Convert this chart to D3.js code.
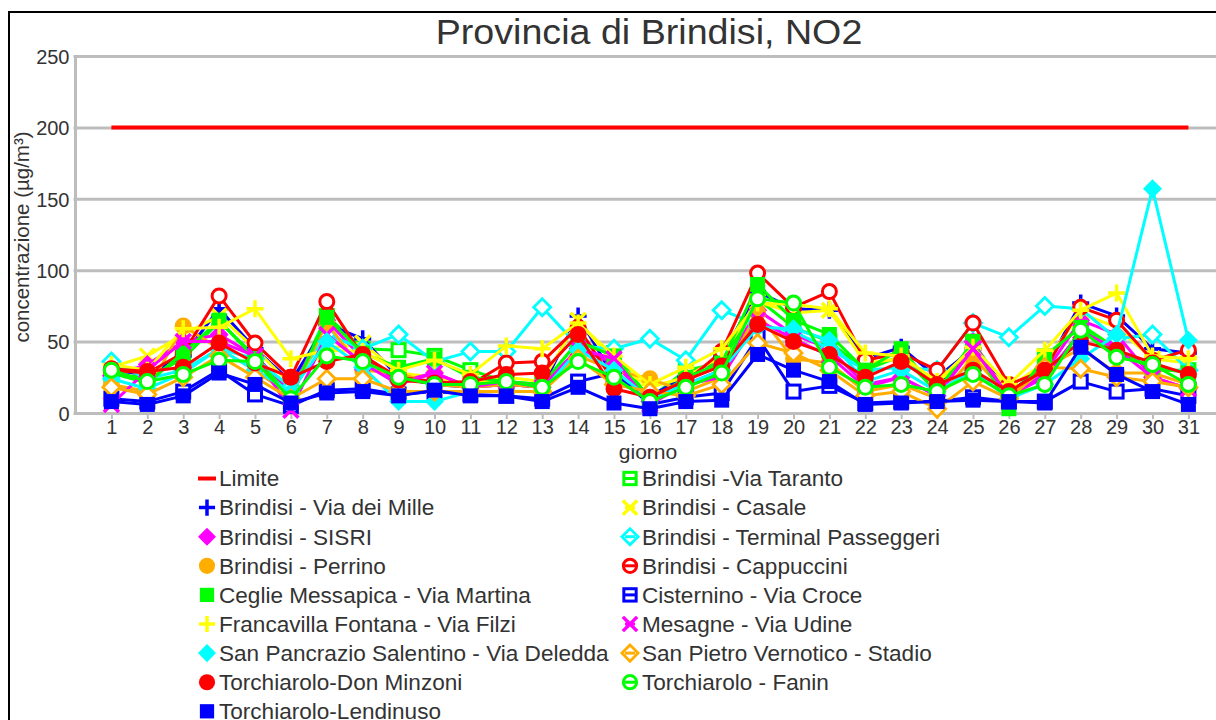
<!DOCTYPE html>
<html><head><meta charset="utf-8">
<script src="https://cdn.jsdelivr.net/npm/d3@7"></script>
<style>
html,body{margin:0;padding:0;background:#fff;}
svg{display:block;font-family:"Liberation Sans",Arial,sans-serif;}
</style></head>
<body>
<svg id="chart" width="1216" height="720"></svg>
<script>
// ---- data ----
const days = [1,2,3,4,5,6,7,8,9,10,11,12,13,14,15,16,17,18,19,20,21,22,23,24,25,26,27,28,29,30,31];
const yTicks = [0,50,100,150,200,250];
const limite = 200;
const chartTitle = "Provincia di Brindisi, NO2";
const xTitle = "giorno";
const yTitle = "concentrazione (µg/m³)";

const viaTaranto   = [27,25,38,64,40,15,68,45,44,40,30,22,20,50,42,10,30,35,80,60,50,30,40,15,50,12,37,62,45,30,30];
const viaDeiMille  = [30,27,40,73,45,22,62,52,25,20,18,20,18,68,25,12,25,40,85,73,72,38,46,25,45,15,30,77,68,45,42];
const casale       = [32,40,55,68,45,20,45,49,28,25,20,25,22,65,35,18,25,40,78,70,72,35,38,22,40,18,35,70,60,38,35];
const sisri        = [26,34,50,55,40,15,65,38,22,28,18,20,18,45,35,8,20,30,72,55,45,20,25,12,50,10,28,65,55,25,17];
const terminal     = [36,24,30,45,38,18,55,45,55,36,43,43,74,47,45,52,37,72,62,57,45,30,32,30,63,53,75,73,52,55,30];
const perrino      = [20,15,61,45,30,12,63,30,28,20,18,20,18,40,30,24,15,25,70,38,35,15,20,10,39,12,32,45,28,28,20];
const cappuccini   = [30,28,42,82,49,25,78,40,25,22,20,35,36,60,22,12,22,43,98,74,85,37,42,30,63,20,30,74,65,37,44];
const ceglie       = [28,21,42,65,38,12,67,42,32,38,25,22,20,50,40,8,25,35,90,65,55,30,45,15,50,3,40,60,42,32,28];
const cisternino   = [10,8,15,30,13,5,16,17,13,15,13,12,10,22,28,6,11,14,53,15,19,7,8,8,11,8,8,22,15,17,12];
const francavilla  = [34,30,59,60,73,38,44,43,30,37,27,47,45,63,40,20,32,45,77,76,73,42,40,22,46,20,44,72,84,40,38];
const mesagne      = [6,30,50,50,40,2,55,35,20,28,18,22,18,45,38,6,20,25,65,52,40,18,25,12,45,12,25,57,45,25,17];
const sanPancrazio = [24,17,28,45,30,15,50,32,8,8,15,15,15,44,30,10,20,30,60,59,51,22,30,15,30,10,20,38,55,157,51];
const sanPietro    = [18,13,25,40,25,10,24,24,15,15,15,15,15,38,20,15,12,20,49,42,30,12,15,3,22,10,32,31,25,22,18];
const donMinzoni   = [31,29,32,49,35,25,36,41,23,21,22,27,28,55,17,11,23,33,62,50,41,25,36,20,30,15,30,50,44,35,27];
const fanin        = [30,22,27,37,36,10,40,36,25,20,20,22,18,36,25,8,18,28,80,77,32,18,20,15,27,12,20,58,39,34,20];
const lendinuso    = [8,6,12,28,20,7,14,15,12,16,12,12,8,18,7,3,8,9,41,30,22,6,7,8,9,8,7,46,27,15,6];

const seriesNames = ["Brindisi -Via Taranto","Brindisi - Via dei Mille","Brindisi - Casale","Brindisi - SISRI",
  " Brindisi - Terminal Passeggeri","Brindisi - Perrino","Brindisi - Cappuccini","Ceglie Messapica - Via Martina",
  "Cisternino - Via Croce","Francavilla Fontana - Via Filzi","Mesagne - Via Udine","San Pancrazio Salentino - Via Deledda",
  "San Pietro Vernotico - Stadio","Torchiarolo-Don Minzoni","Torchiarolo - Fanin","Torchiarolo-Lendinuso"];
const seriesValues = [viaTaranto,viaDeiMille,casale,sisri,terminal,perrino,cappuccini,ceglie,cisternino,francavilla,mesagne,sanPancrazio,sanPietro,donMinzoni,fanin,lendinuso];

// ---- styles ----
const C = {red:"#ff0000",green:"#00ff00",blue:"#0000ff",yellow:"#ffff00",magenta:"#ff00ff",cyan:"#00ffff",orange:"#ffad00"};
const styles = [
  {c:C.green,  m:"squareO"},
  {c:C.blue,   m:"plus"},
  {c:C.yellow, m:"x"},
  {c:C.magenta,m:"diamond"},
  {c:C.cyan,   m:"diamondO"},
  {c:C.orange, m:"circle"},
  {c:C.red,    m:"circleO"},
  {c:C.green,  m:"square"},
  {c:C.blue,   m:"squareO"},
  {c:C.yellow, m:"plus"},
  {c:C.magenta,m:"x"},
  {c:C.cyan,   m:"diamond"},
  {c:C.orange, m:"diamondO"},
  {c:C.red,    m:"circle"},
  {c:C.green,  m:"circleO"},
  {c:C.blue,   m:"square"}
];

const svg = d3.select("#chart");
const textColor = "#333";
const gridColor = "#bdbdbd";

// frame
svg.append("rect").attr("x",9).attr("y",12).attr("width",1400).attr("height",900)
  .attr("fill","none").attr("stroke","#000").attr("stroke-width",2);

const x = d3.scaleLinear().domain([0,32]).range([75.5, 75.5+32*35.9]);
const y = d3.scaleLinear().domain([0,250]).range([413,56]);

// grid
const yAxis = d3.axisLeft(y).tickValues(yTicks).tickSize(-1300).tickPadding(6);
const gy = svg.append("g").attr("transform","translate(75.5,0)").call(yAxis);
gy.select(".domain").remove();
gy.selectAll(".tick line").attr("stroke",gridColor).attr("stroke-width",3).attr("x1",-2);
gy.selectAll(".tick text").attr("fill",textColor).attr("font-size",20).attr("font-family","Liberation Sans, Arial").attr("x",-6).attr("dy","0.36em");
// vertical axis line
svg.append("line").attr("x1",x(0)).attr("x2",x(0)).attr("y1",y(250)).attr("y2",y(0)+1.5)
  .attr("stroke",gridColor).attr("stroke-width",3);

const xAxis = d3.axisBottom(x).tickValues(days).tickSize(6).tickPadding(3).tickFormat(d3.format("d"));
const gx = svg.append("g").attr("transform",`translate(0,${y(0)})`).call(xAxis);
gx.select(".domain").remove();
gx.selectAll(".tick line").attr("stroke",gridColor).attr("stroke-width",2);
gx.selectAll(".tick text").attr("fill",textColor).attr("font-size",20).attr("font-family","Liberation Sans, Arial").attr("dy","0.62em");

// titles
svg.append("text").attr("transform","translate(649,44) scale(1.06,1)").attr("text-anchor","middle")
  .attr("font-size",35.5).attr("fill",textColor).text(chartTitle);
svg.append("text").attr("transform","translate(648,459) scale(1.08,1)").attr("text-anchor","middle")
  .attr("font-size",19.5).attr("fill",textColor).text(xTitle);
svg.append("text").attr("transform","translate(28.5,237) rotate(-90)").attr("text-anchor","middle")
  .attr("font-size",20.5).attr("fill",textColor).text(yTitle);

// markers
function drawMarker(g, type, color, cx, cy, scale=1){
  const s = scale;
  switch(type){
    case "square":
      g.append("rect").attr("x",cx-7.5*s).attr("y",cy-7.5*s).attr("width",15*s).attr("height",15*s).attr("fill",color); break;
    case "squareO":
      g.append("rect").attr("x",cx-6.5*s).attr("y",cy-6.5*s).attr("width",13*s).attr("height",13*s)
        .attr("fill","#fff").attr("stroke",color).attr("stroke-width",3); break;
    case "diamond":
      g.append("path").attr("d",`M${cx},${cy-9.5*s}L${cx+9.5*s},${cy}L${cx},${cy+9.5*s}L${cx-9.5*s},${cy}Z`).attr("fill",color); break;
    case "diamondO":
      g.append("path").attr("d",`M${cx},${cy-8.5*s}L${cx+8.5*s},${cy}L${cx},${cy+8.5*s}L${cx-8.5*s},${cy}Z`)
        .attr("fill","#fff").attr("stroke",color).attr("stroke-width",2.8); break;
    case "circle":
      g.append("circle").attr("cx",cx).attr("cy",cy).attr("r",8.5*s).attr("fill",color); break;
    case "circleO":
      g.append("circle").attr("cx",cx).attr("cy",cy).attr("r",7*s).attr("fill","#fff").attr("stroke",color).attr("stroke-width",3); break;
    case "plus":
      g.append("path").attr("d",`M${cx-8.5*s},${cy}H${cx+8.5*s}M${cx},${cy-8.5*s}V${cy+8.5*s}`)
        .attr("stroke",color).attr("stroke-width",3.5).attr("fill","none"); break;
    case "x":
      g.append("path").attr("d",`M${cx-7.5*s},${cy-7.5*s}L${cx+7.5*s},${cy+7.5*s}M${cx-7.5*s},${cy+7.5*s}L${cx+7.5*s},${cy-7.5*s}`)
        .attr("stroke",color).attr("stroke-width",3.5).attr("fill","none"); break;
  }
}

const plot = svg.append("g");
// limit line
plot.append("path").datum(days)
  .attr("d", d3.line().x(d=>x(d)).y(()=>y(limite)))
  .attr("stroke",C.red).attr("stroke-width",4).attr("fill","none");

const line = d3.line().x((d,i)=>x(days[i])).y(d=>y(d));
seriesValues.forEach((vals,k)=>{
  const st = styles[k];
  const g = plot.append("g");
  g.append("path").datum(vals).attr("d",line).attr("stroke",st.c).attr("stroke-width",3)
    .attr("fill","none").attr("stroke-linejoin","round");
  vals.forEach((v,i)=>drawMarker(g, st.m, st.c, x(days[i]), y(v)));
});

// legend
const legendNames = ["Limite", ...seriesNames];
const leg = svg.append("g");
legendNames.forEach((name,i)=>{
  const col = i%2, row = Math.floor(i/2);
  const mx = col===0 ? 207 : 630;
  const ty = 478.5 + row*29.1;
  const g = leg.append("g");
  if(i===0){
    g.append("line").attr("x1",mx-9).attr("x2",mx+9).attr("y1",ty).attr("y2",ty).attr("stroke",C.red).attr("stroke-width",4);
  } else {
    const st = styles[i-1];
    drawMarker(g, st.m, st.c, mx, ty, 0.95);
    if(["squareO","circleO","diamondO","x"].includes(st.m)){
      g.append("line").attr("x1",mx-5).attr("x2",mx+5).attr("y1",ty).attr("y2",ty).attr("stroke",st.c).attr("stroke-width",3);
    }
  }
  g.append("text").attr("transform",`translate(${mx+12},${ty+7.8}) scale(1.05,1)`)
    .attr("font-size",21.5).attr("fill",textColor).text(name);
});
</script>
</body></html>
